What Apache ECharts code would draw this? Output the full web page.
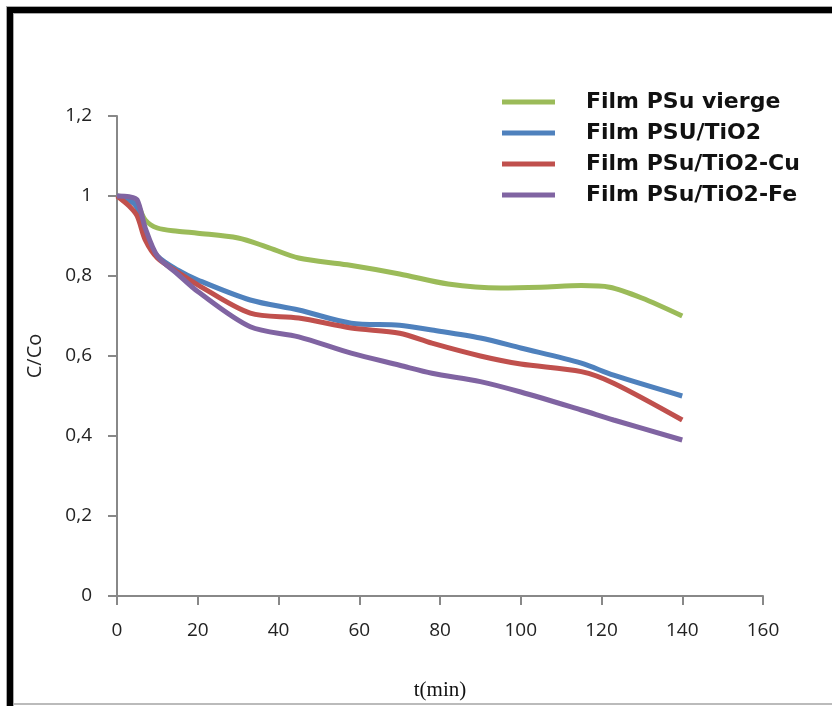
<!DOCTYPE html>
<html><head><meta charset="utf-8">
<script src="https://cdn.jsdelivr.net/npm/echarts@6/dist/echarts.min.js"></script>
<style>html,body{margin:0;padding:0;background:#fff}#c{width:832px;height:706px}</style>
</head><body><div id="c"></div>
<script>
const seriesNames = ['Film PSu vierge', 'Film PSU/TiO2', 'Film PSu/TiO2-Cu', 'Film PSu/TiO2-Fe'];
const tGreen = [0, 3, 5, 7, 10, 15, 20, 30, 37, 45, 57, 70, 82, 95, 105, 115, 122, 130, 140];
const vGreen = [1.0, 0.995, 0.98, 0.94, 0.92, 0.912, 0.907, 0.895, 0.873, 0.845, 0.828, 0.805, 0.78, 0.77, 0.772, 0.776, 0.772, 0.745, 0.70];
const tBlue = [0, 3, 5, 7, 10, 15, 20, 33, 45, 58, 70, 78, 90, 100, 115, 123, 140];
const vBlue = [1.0, 0.99, 0.97, 0.9, 0.85, 0.815, 0.79, 0.74, 0.715, 0.682, 0.677, 0.665, 0.645, 0.62, 0.582, 0.552, 0.50];
const tRed = [0, 3, 5, 7, 10, 15, 20, 33, 45, 58, 70, 78, 90, 100, 115, 123, 140];
const vRed = [1.0, 0.975, 0.95, 0.89, 0.845, 0.81, 0.778, 0.707, 0.695, 0.67, 0.657, 0.632, 0.60, 0.58, 0.561, 0.532, 0.44];
const tPurple = [0, 3, 5, 7, 10, 15, 20, 33, 45, 58, 70, 78, 90, 100, 115, 123, 140];
const vPurple = [1.0, 0.998, 0.99, 0.92, 0.85, 0.805, 0.761, 0.673, 0.648, 0.607, 0.577, 0.557, 0.536, 0.51, 0.465, 0.44, 0.39];
const xTicks = [0, 20, 40, 60, 80, 100, 120, 140, 160];
const yTicks = [0, 0.2, 0.4, 0.6, 0.8, 1, 1.2];
const xAxisName = 't(min)';
const yAxisName = 'C/Co';

const colors = ['#9BBB59', '#4F81BD', '#C0504D', '#8064A2'];
const pairs = (t, v) => t.map((x, i) => [x, v[i]]);
const allData = [pairs(tGreen, vGreen), pairs(tBlue, vBlue), pairs(tRed, vRed), pairs(tPurple, vPurple)];

const chart = echarts.init(document.getElementById('c'), null, {renderer: 'canvas'});
const axisFont = '"Open Sans", Lato, sans-serif';
chart.setOption({
  animation: false,
  backgroundColor: '#fff',
  color: colors,
  grid: {left: 117, right: 69, top: 116, bottom: 110},
  legend: {
    orient: 'vertical', left: 497, top: 86,
    itemWidth: 53, itemHeight: 10, itemGap: 9,
    data: seriesNames.map((n, i) => ({name: n, icon: 'path://M0,0 L53,0 L53,5 L0,5 Z', itemStyle: {color: colors[i]}})),
    textStyle: {fontFamily: '"DejaVu Sans", sans-serif', fontWeight: 'bold', fontSize: 22, color: '#111', lineHeight: 22, padding: [0, 0, 0, 26]}
  },
  xAxis: {
    type: 'value', min: xTicks[0], max: xTicks[xTicks.length - 1], interval: 20,
    name: xAxisName, nameLocation: 'middle', nameGap: 84,
    nameTextStyle: {fontFamily: '"Liberation Serif", serif', fontSize: 21, color: '#111'},
    axisLine: {lineStyle: {color: '#888', width: 2}},
    axisTick: {show: true, length: 9, inside: false, lineStyle: {color: '#888', width: 2}},
    axisLabel: {margin: 25, fontFamily: axisFont, fontSize: 19, color: '#222'},
    splitLine: {show: false}
  },
  yAxis: {
    type: 'value', min: yTicks[0], max: yTicks[yTicks.length - 1], interval: 0.2,
    name: yAxisName, nameLocation: 'middle', nameGap: 72, nameRotate: 90,
    nameTextStyle: {fontFamily: axisFont, fontSize: 20, color: '#222'},
    axisLine: {show: true, lineStyle: {color: '#888', width: 2}},
    axisTick: {show: true, length: 9, lineStyle: {color: '#888', width: 2}},
    axisLabel: {margin: 25, fontFamily: axisFont, fontSize: 19, color: '#222',
      formatter: v => String(+v.toFixed(1)).replace('.', ',')},
    splitLine: {show: false}
  },
  series: seriesNames.map((n, i) => ({
    name: n, type: 'line', data: allData[i], smooth: 0.3, symbol: 'none',
    lineStyle: {width: 5, color: colors[i]}, itemStyle: {color: colors[i]}
  })),
  graphic: [
    {type: 'rect', shape: {x: 6, y: 6, width: 826, height: 8}, style: {fill: '#aaa'}, silent: true},
    {type: 'rect', shape: {x: 6, y: 6, width: 8, height: 700}, style: {fill: '#aaa'}, silent: true},
    {type: 'rect', shape: {x: 7, y: 7, width: 825, height: 6}, style: {fill: '#000'}, silent: true},
    {type: 'rect', shape: {x: 7, y: 7, width: 6, height: 699}, style: {fill: '#000'}, silent: true},
    {type: 'rect', shape: {x: 14, y: 703, width: 818, height: 2}, style: {fill: '#bbb'}, silent: true}
  ]
});
</script></body></html>
